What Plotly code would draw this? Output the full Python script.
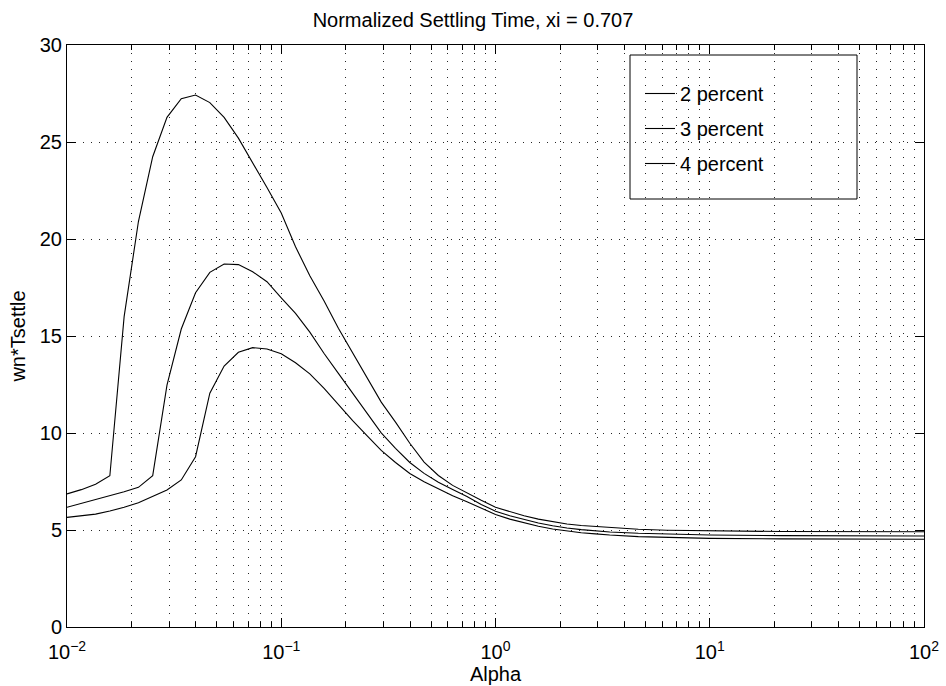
import plotly.graph_objects as go

alpha = [0.01, 0.011659, 0.013594, 0.015849, 0.018478, 0.021544, 0.025119, 0.029286,
         0.034145, 0.039811, 0.046416, 0.054117, 0.063096, 0.073564, 0.08577, 0.1,
         0.11659, 0.13594, 0.15849, 0.18478, 0.21544, 0.25119, 0.29286, 0.34145,
         0.39811, 0.46416, 0.54117, 0.63096, 0.73564, 0.8577, 1.0,
         1.1659, 1.3594, 1.5849, 1.8478, 2.1544, 2.5119, 2.9286, 3.4145,
         4.6416, 6.3096, 10.0, 21.544, 100.0]

settle_2pct = [6.86, 7.08, 7.36, 7.80, 16.0, 20.9, 24.24, 26.27, 27.23, 27.42, 27.03,
               26.27, 25.2, 23.96, 22.65, 21.34, 19.6, 18.1, 16.8, 15.4, 14.12, 12.81,
               11.59, 10.56, 9.47, 8.5, 7.81, 7.3, 6.9, 6.53, 6.17,
               5.93, 5.73, 5.56, 5.42, 5.31, 5.23, 5.18, 5.12,
               5.04, 4.99, 4.95, 4.92, 4.91]

settle_3pct = [6.17, 6.37, 6.55, 6.75, 6.97, 7.2, 7.8, 12.47, 15.36, 17.23, 18.28,
               18.71, 18.68, 18.31, 17.8, 16.97, 16.17, 15.2, 14.1, 13.07, 12.05, 11.03,
               10.01, 9.21, 8.48, 7.92, 7.46, 7.09, 6.73, 6.32, 5.97,
               5.73, 5.53, 5.36, 5.22, 5.1, 5.02, 4.96, 4.9,
               4.83, 4.78, 4.74, 4.71, 4.69]

settle_4pct = [5.65, 5.74, 5.82, 5.98, 6.17, 6.41, 6.72, 7.06, 7.58, 8.78, 12.05,
               13.45, 14.16, 14.4, 14.33, 14.08, 13.62, 13.05, 12.3, 11.46, 10.64, 9.86,
               9.1, 8.48, 7.91, 7.49, 7.12, 6.77, 6.46, 6.14, 5.8,
               5.56, 5.36, 5.19, 5.05, 4.94, 4.86, 4.8, 4.74,
               4.66, 4.61, 4.57, 4.54, 4.52]

series_names = ["2 percent", "3 percent", "4 percent"]
x_tickvals = [0.01, 0.1, 1, 10, 100]
x_ticktext = ["10<sup>−2</sup>", "10<sup>−1</sup>", "10<sup>0</sup>", "10<sup>1</sup>", "10<sup>2</sup>"]
x_minor = [m * d for d in [0.01, 0.1, 1, 10] for m in range(2, 10)]
y_tickvals = [0, 5, 10, 15, 20, 25, 30]

FONT = "Liberation Sans, Arial, Helvetica, sans-serif"
FS = 20

fig = go.Figure()
for i, (name, ys) in enumerate(zip(series_names, [settle_2pct, settle_3pct, settle_4pct])):
    fig.add_trace(go.Scatter(x=alpha, y=ys, mode="lines", name=name,
                             legendgroup=name,
                             line=dict(color="black", width=1.1)))

grid_dash = "1px,7px"
grid_col = "rgba(0,0,0,0.85)"

PL, PR, PT, PB = 67, 924, 45, 627
PW, PH = PR - PL, PB - PT

fig.update_layout(
    width=946, height=686, autosize=False,
    margin=dict(l=PL, r=946 - PR, t=PT, b=686 - PB, pad=0, autoexpand=False),
    paper_bgcolor="white", plot_bgcolor="white",
    font=dict(family=FONT, size=FS, color="black"),
    title=dict(text="Normalized Settling Time, xi = 0.707", x=(473 - PL) / PW, xref="paper",
               xanchor="center", y=1 - 20 / 686, yref="container", yanchor="middle",
               font=dict(family=FONT, size=FS, color="black")),
    showlegend=True,
    legend=dict(x=(640 - PL) / PW, y=1 - (74 - PT) / PH, xanchor="left", yanchor="top",
                bgcolor="rgba(0,0,0,0)", borderwidth=0, tracegroupgap=6,
                font=dict(family=FONT, size=FS, color="black")),
    shapes=[dict(type="rect", xref="paper", yref="paper",
                 x0=(630 - PL) / PW, x1=(857 - PL) / PW,
                 y0=1 - (199 - PT) / PH, y1=1 - (55 - PT) / PH,
                 line=dict(color="black", width=1), fillcolor="white", layer="below")],
)

fig.update_xaxes(
    type="log", range=[-2, 2], automargin=False,
    tickmode="array", tickvals=x_tickvals, ticktext=x_ticktext,
    ticks="inside", ticklen=9, tickwidth=1, tickcolor="black",
    showline=True, linecolor="black", linewidth=1, mirror="allticks",
    showgrid=True, gridcolor=grid_col, griddash=grid_dash, gridwidth=1,
    minor=dict(tickmode="array", tickvals=x_minor, ticks="inside", ticklen=5,
               tickcolor="black", showgrid=True, gridcolor=grid_col,
               griddash=grid_dash, gridwidth=1),
    title=dict(text="Alpha", font=dict(family=FONT, size=FS), standoff=2),
    tickfont=dict(family=FONT, size=FS), zeroline=False,
    ticklabelstandoff=7,
)
fig.update_yaxes(
    range=[0, 30], automargin=False, tickmode="array", tickvals=y_tickvals,
    ticks="inside", ticklen=9, tickwidth=1, tickcolor="black",
    showline=True, linecolor="black", linewidth=1, mirror="allticks",
    showgrid=True, gridcolor=grid_col, griddash=grid_dash, gridwidth=1,
    title=dict(text="wn*Tsettle", font=dict(family=FONT, size=FS), standoff=8),
    tickfont=dict(family=FONT, size=FS), zeroline=False,
)

fig.write_html("out.html")
